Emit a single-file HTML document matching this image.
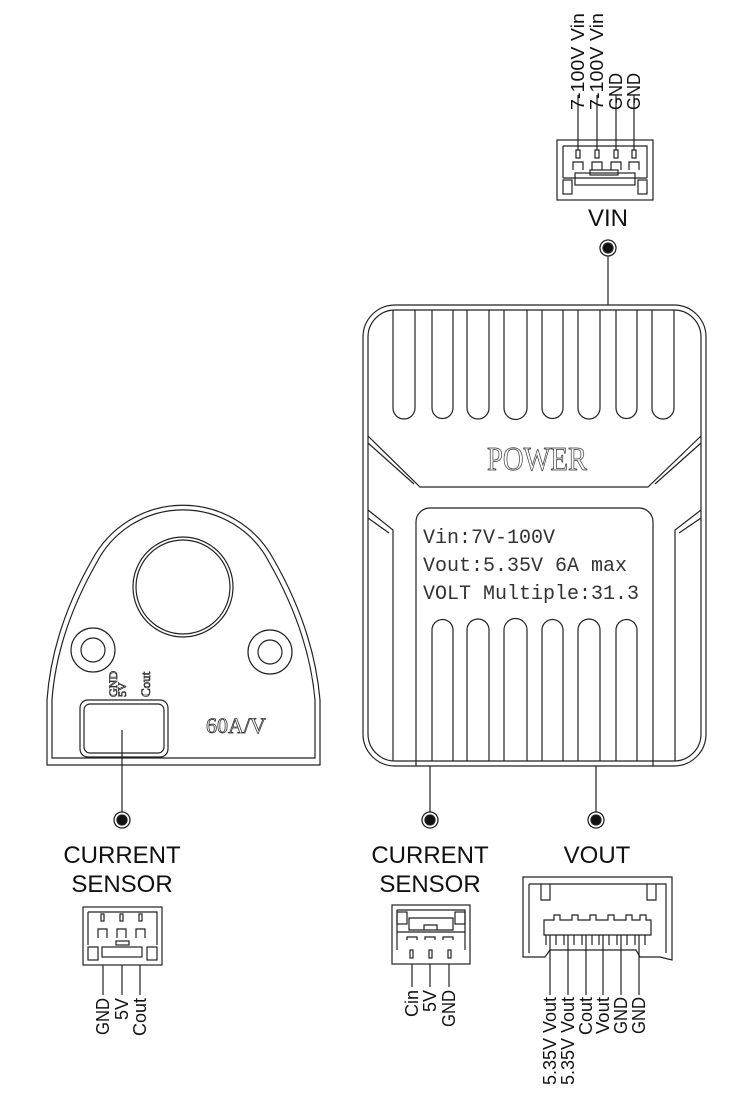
<!DOCTYPE html>
<html><head><meta charset="utf-8"><style>html,body{margin:0;padding:0;background:#fff}svg{display:block}</style></head><body>
<svg width="750" height="1094" viewBox="0 0 750 1094" xmlns="http://www.w3.org/2000/svg">
<g fill="none" stroke="#222" stroke-width="1.2">
<rect x="557" y="140" width="96" height="60"/>
<path d="M563,146 H647 V178 M563,146 V178 M563,178 H647"/>
<rect x="563" y="180" width="9" height="14"/><rect x="638" y="180" width="9" height="14"/>
<rect x="575" y="173" width="60" height="12"/><rect x="590" y="170" width="28" height="5"/>
<path d="M578,95 V150 M597,95 V150 M616,95 V150 M634,95 V150"/>
<rect x="576" y="150" width="4" height="8"/><rect x="595" y="150" width="4" height="8"/><rect x="614" y="150" width="4" height="8"/><rect x="632" y="150" width="4" height="8"/>
<path d="M573,170 V162 H583 V170 M592,170 V162 H602 V170 M611,170 V162 H621 V170 M629,170 V162 H639 V170"/>
<line x1="608" y1="256" x2="608" y2="305"/>
<rect x="363" y="305" width="343" height="461" rx="32"/>
<rect x="368" y="310" width="333" height="451" rx="27"/>
<path d="M393,310 V408 a11,11 0 0 0 22,0 V310"/>
<path d="M432,310 V408 a10.5,10.5 0 0 0 21,0 V310"/>
<path d="M467,310 V408 a11,11 0 0 0 22,0 V310"/>
<path d="M504,310 V408 a11.5,11.5 0 0 0 23,0 V310"/>
<path d="M542,310 V408 a10.5,10.5 0 0 0 21,0 V310"/>
<path d="M578,310 V408 a11,11 0 0 0 22,0 V310"/>
<path d="M616,310 V408 a10.5,10.5 0 0 0 21,0 V310"/>
<path d="M652,310 V408 a11,11 0 0 0 22,0 V310"/>
<path d="M368,436 L420,487 H648 L701,436 M368,443 L414,484 M701,443 L655,484"/>
<path d="M416,766 V522 a14,14 0 0 1 14,-14 H639 a14,14 0 0 1 14,14 V766"/>
<path d="M368,510 L393,530 V761 M368,518 L389,533 M701,510 L675,530 V761 M701,518 L679,533"/>
<path d="M432,761 V630 a10.5,10.5 0 0 1 21,0 V761"/>
<path d="M467,761 V630 a11,11 0 0 1 22,0 V761"/>
<path d="M504,761 V630 a11.5,11.5 0 0 1 23,0 V761"/>
<path d="M542,761 V630 a10.5,10.5 0 0 1 21,0 V761"/>
<path d="M578,761 V630 a11,11 0 0 1 22,0 V761"/>
<path d="M616,761 V630 a10.5,10.5 0 0 1 21,0 V761"/>
<line x1="430" y1="766" x2="430" y2="812"/><line x1="596" y1="766" x2="596" y2="812"/>
<path d="M47,765 L47,700 Q52,630 92,560 A103,103 0 0 1 274,560 Q314,630 320,700 L320,765 Z"/>
<path d="M52,758 L52,700 Q57,632 97,562 A97,97 0 0 1 269,562 Q309,632 315,700 L315,758 Z"/>
<circle cx="183" cy="587" r="50"/><circle cx="183" cy="587" r="47"/>
<circle cx="93" cy="650" r="22"/><circle cx="93" cy="650" r="12"/>
<circle cx="270" cy="652" r="22"/><circle cx="270" cy="652" r="12"/>
<rect x="80" y="700" width="88" height="57" rx="8"/><rect x="84" y="704" width="80" height="49" rx="6"/>
<line x1="122" y1="730" x2="122" y2="812"/>
<rect x="83" y="907" width="79" height="58"/>
<path d="M88,912 H157 V945 M88,912 V945"/>
<rect x="88" y="947" width="10" height="13"/><rect x="147" y="947" width="10" height="13"/>
<rect x="102" y="947" width="40" height="10"/><rect x="116" y="941" width="13" height="4"/>
<rect x="101" y="914" width="3" height="7"/><rect x="120" y="914" width="3" height="7"/><rect x="139" y="914" width="3" height="7"/>
<path d="M98,938 V929 H107 V938 M117,938 V929 H126 V938 M136,938 V929 H145 V938"/>
<path d="M103,965 V995 M122,965 V995 M140,965 V995"/>
<rect x="392" y="905" width="78" height="59"/>
<path d="M397,910 H465 V950 M397,910 V950"/>
<rect x="397" y="912" width="10" height="12"/><rect x="455" y="912" width="10" height="12"/>
<path d="M409,918 H453 V930 H409 Z M424,930 V925 H437 V930 M397,932 H465"/>
<path d="M407,940 V937 H417 V940 M425,940 V937 H435 V940 M443,940 V937 H453 V940"/>
<rect x="410" y="950" width="3" height="8"/><rect x="429" y="950" width="3" height="8"/><rect x="448" y="950" width="3" height="8"/>
<path d="M412,964 V987 M430,964 V987 M449,964 V987"/>
<path d="M523,877 H672 V960 L660,957 H640 L636,950 L550,950 L545,957 H523 Z"/>
<path d="M529,884 H666 V953 M529,884 V953 M541,884 V900 H550 V884 M647,884 V900 H656 V884"/>
<path d="M544,935 V920 H554 V915 H560 V920 H572 V915 H578 V920 H590 V915 H596 V920 H608 V915 H614 V920 H626 V915 H632 V920 H640 V915 H646 V920 H651 V935 Z"/>
<path d="M550,935 V995 M568,935 V995 M586,935 V995 M603,935 V995 M621,935 V995 M639,935 V995"/>
<path d="M546,935 V945 M556,935 V945 M564,935 V945 M574,935 V945 M582,935 V945 M592,935 V945 M599,935 V945 M609,935 V945 M617,935 V945 M627,935 V945 M635,935 V945 M645,935 V945"/>
</g>
<g fill="#111" stroke="#222" stroke-width="1.3">
<circle cx="608" cy="248" r="8" fill="none"/><circle cx="608" cy="248" r="5"/>
<circle cx="122" cy="820" r="8" fill="none"/><circle cx="122" cy="820" r="5"/>
<circle cx="430" cy="820" r="8" fill="none"/><circle cx="430" cy="820" r="5"/>
<circle cx="596" cy="820" r="8" fill="none"/><circle cx="596" cy="820" r="5"/>
</g>
<g font-family="'Liberation Serif',serif" fill="none" stroke="#333" stroke-width="0.8">
<text x="537" y="470" font-size="34" text-anchor="middle" textLength="100" lengthAdjust="spacingAndGlyphs">POWER</text>
<text x="206" y="733" font-size="22">60A/V</text>
<text transform="translate(117,697) rotate(-90)" font-size="12">GND</text>
<text transform="translate(126,697) rotate(-90)" font-size="12">5V</text>
<text transform="translate(150,697) rotate(-90)" font-size="13">Cout</text>
</g>
<g font-family="'Liberation Mono',monospace" font-size="20" fill="#333">
<text x="423" y="543">Vin:7V-100V</text>
<text x="423" y="571">Vout:5.35V 6A max</text>
<text x="423" y="599">VOLT Multiple:31.3</text>
</g>
<g font-family="'Liberation Sans',sans-serif" fill="#111" font-size="24" text-anchor="middle">
<text x="608" y="226">VIN</text>
<text x="122" y="863">CURRENT</text><text x="122" y="892">SENSOR</text>
<text x="430" y="863">CURRENT</text><text x="430" y="892">SENSOR</text>
<text x="597" y="863">VOUT</text>
</g>
<g font-family="'Liberation Sans',sans-serif" fill="#111" font-size="18" text-anchor="start" lengthAdjust="spacingAndGlyphs">
<text transform="translate(584,110) rotate(-90)" textLength="97" lengthAdjust="spacingAndGlyphs">7-100V  Vin</text>
<text transform="translate(603,110) rotate(-90)" textLength="97" lengthAdjust="spacingAndGlyphs">7-100V  Vin</text>
<text transform="translate(622,110) rotate(-90)" textLength="37" lengthAdjust="spacingAndGlyphs">GND</text>
<text transform="translate(640,110) rotate(-90)" textLength="37" lengthAdjust="spacingAndGlyphs">GND</text>
</g>
<g font-family="'Liberation Sans',sans-serif" fill="#111" font-size="18" text-anchor="end">
<text transform="translate(109,998) rotate(-90)" textLength="37" lengthAdjust="spacingAndGlyphs">GND</text>
<text transform="translate(128,998) rotate(-90)">5V</text>
<text transform="translate(146,998) rotate(-90)" textLength="38" lengthAdjust="spacingAndGlyphs">Cout</text>
<text transform="translate(418,990) rotate(-90)">Cin</text>
<text transform="translate(436,990) rotate(-90)">5V</text>
<text transform="translate(455,990) rotate(-90)" textLength="37" lengthAdjust="spacingAndGlyphs">GND</text>
<text transform="translate(556,997) rotate(-90)" textLength="88" lengthAdjust="spacingAndGlyphs">5.35V  Vout</text>
<text transform="translate(574,997) rotate(-90)" textLength="88" lengthAdjust="spacingAndGlyphs">5.35V  Vout</text>
<text transform="translate(592,997) rotate(-90)" textLength="38" lengthAdjust="spacingAndGlyphs">Cout</text>
<text transform="translate(609,997) rotate(-90)" textLength="37" lengthAdjust="spacingAndGlyphs">Vout</text>
<text transform="translate(627,997) rotate(-90)" textLength="37" lengthAdjust="spacingAndGlyphs">GND</text>
<text transform="translate(645,997) rotate(-90)" textLength="37" lengthAdjust="spacingAndGlyphs">GND</text>
</g>
</svg>
</body></html>
